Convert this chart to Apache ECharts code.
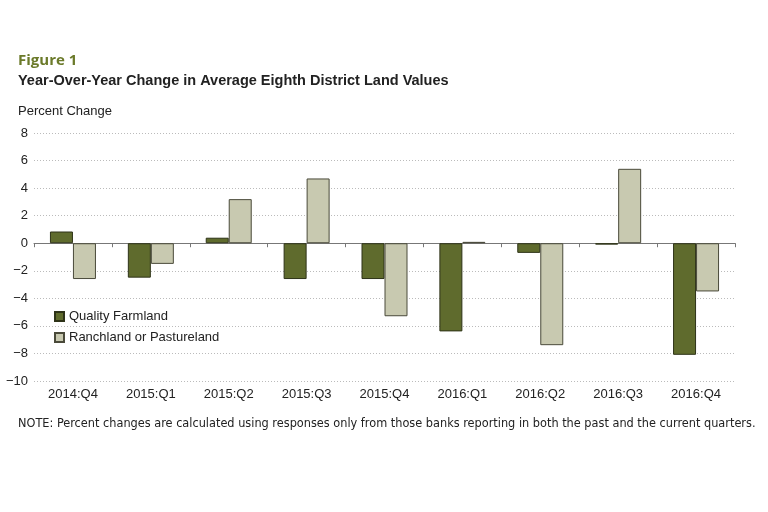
<!DOCTYPE html>
<html><head><meta charset="utf-8">
<script src="https://cdn.jsdelivr.net/npm/echarts@6/dist/echarts.min.js"></script>
<style>html,body{margin:0;padding:0;background:#fff}#c{width:768px;height:512px}</style>
</head><body><div id="c"></div>
<script>
const categories = ['2014:Q4','2015:Q1','2015:Q2','2015:Q3','2015:Q4','2016:Q1','2016:Q2','2016:Q3','2016:Q4'];
const qualityFarmland = [0.85, -2.5, 0.4, -2.6, -2.6, -6.4, -0.7, -0.1, -8.1];
const ranchland = [-2.6, -1.5, 3.2, 4.7, -5.3, 0.1, -7.4, 5.4, -3.5];
const yTicks = [-10, -8, -6, -4, -2, 0, 2, 4, 6, 8];

const chart = echarts.init(document.getElementById('c'), null, {renderer:'canvas'});
const font = 'Liberation Sans';
chart.setOption({
  animation: false,
  graphic: [
    {type:'text', left:18, top:53, style:{text:'Figure 1', font:'bold 15px "Open Sans"', fill:'#6b7a2a'}},
    {type:'text', left:18, top:73, style:{text:'Year-Over-Year Change in Average Eighth District Land Values', font:'bold 14.5px "Liberation Sans"', fill:'#222'}},
    {type:'text', left:18, top:105, style:{text:'Percent Change', font:'13px "Liberation Sans"', fill:'#222'}},
    {type:'text', left:18, top:417, style:{text:'NOTE: Percent changes are calculated using responses only from those banks reporting in both the past and the current quarters.', font:'12.6px "DejaVu Sans Condensed"', fill:'#222'}}
  ],
  legend: {
    left: 49, top: 305, orient: 'vertical', itemWidth: 9, itemHeight: 9, itemGap: 8,
    icon: 'rect',
    textStyle: {fontFamily: font, fontSize: 13, color: '#222'},
    data: ['Quality Farmland', 'Ranchland or Pastureland']
  },
  grid: {left: 34, right: 33, top: 133, bottom: 131, containLabel: false},
  xAxis: [
    {type:'category', data: categories, position:'bottom',
     axisLine:{show:true, onZero:true, lineStyle:{color:'#777', width:1}},
     axisTick:{show:true, length:4, lineStyle:{color:'#777'}},
     axisLabel:{show:false}},
    {type:'category', data: categories, position:'bottom',
     axisLine:{show:false, onZero:false}, axisTick:{show:false},
     axisLabel:{show:true, fontFamily:font, fontSize:13, color:'#222', margin:7}}
  ],
  yAxis: {
    type:'value', min:-10, max:8, interval:2,
    axisLine:{show:false}, axisTick:{show:false},
    axisLabel:{fontFamily:font, fontSize:13, color:'#222', margin:6,
      formatter: v => yTicks.includes(v) ? (v < 0 ? '\u2212' + Math.abs(v) : String(v)) : ''},
    splitLine:{show:true, lineStyle:{color:'#bbb', type:[1,2], width:1}}
  },
  series: [
    {name:'Quality Farmland', type:'bar', data: qualityFarmland, xAxisIndex:0,
     barWidth: 23, barGap: '0%',
     itemStyle:{color:'#5f6b2d', borderColor:'#2e3318', borderWidth:1}},
    {name:'Ranchland or Pastureland', type:'bar', data: ranchland, xAxisIndex:0,
     barWidth: 23, barGap: '0%',
     itemStyle:{color:'#c8c9b0', borderColor:'#4a4a3a', borderWidth:1}}
  ]
});
</script></body></html>
